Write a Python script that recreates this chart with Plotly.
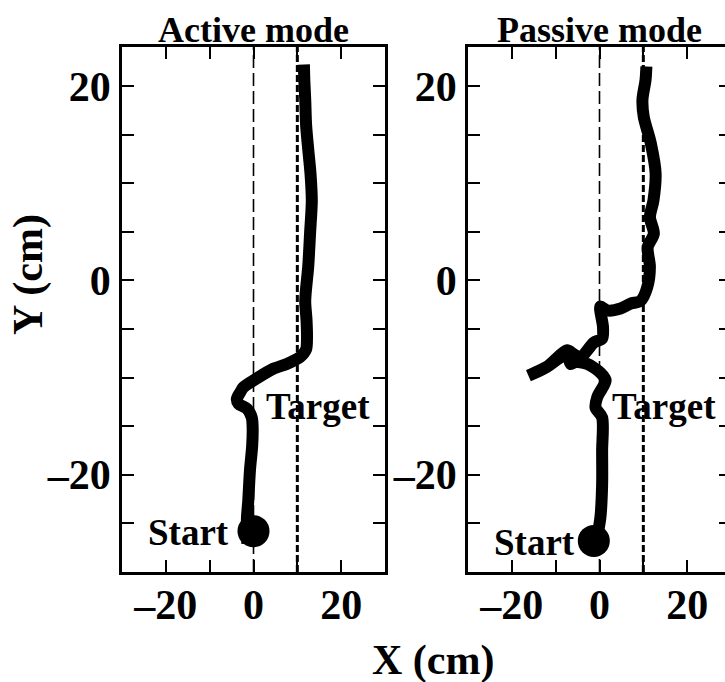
import plotly.graph_objects as go

# ---- data ----
active_x = [-1.4, -1.5, -1.2, -0.8, -0.3, -0.2, -0.4, -1.5, -3.4, -3.8, -3.0, -2.3, 0.7, 4.5, 7.6, 10.6, 12.0, 12.2, 12.1, 11.8, 12.5, 12.9, 13.3, 13.0, 12.5, 12.0, 11.8, 11.6, 11.5]
active_y = [-27.1, -24.5, -22.7, -19.5, -17.0, -15.1, -14.1, -13.2, -12.7, -12.2, -11.5, -11.0, -10.1, -9.1, -8.6, -7.9, -7.1, -6.0, -4.1, -2.1, 1.5, 4.8, 8.2, 11.0, 13.4, 16.0, 18.6, 20.5, 22.2]

passive_x = [-1.0, 0.2, 0.6, 0.6, 0.6, -0.9, -0.5, 1.4, 0.2, -2.8, -5.5, -6.6, -7.4, -12.0, -16.2, -12.0, -7.4, -5.9, -4.3, -1.3, 0.6, 0.8, 0.2, 1.8, 4.8, 7.1, 9.4, 10.9, 11.5, 11.0, 12.4, 11.5, 12.3, 12.8, 11.7, 10.1, 9.8, 10.5, 10.7]
passive_y = [-27.5, -24.4, -21.0, -17.5, -14.1, -13.1, -12.0, -10.3, -9.5, -8.6, -8.4, -8.6, -7.6, -8.9, -9.8, -8.9, -7.2, -7.6, -7.9, -6.4, -6.0, -4.8, -2.7, -3.1, -2.9, -2.4, -2.1, -0.7, 1.4, 3.4, 4.8, 6.5, 8.2, 11.0, 14.1, 16.8, 18.6, 20.6, 22.0]

start_active = (0.0, -25.8)
start_passive = (-1.3, -26.8)
target_x = 10
origin_x = 0

titles = ["Active mode", "Passive mode"]
x_tickvals = [-20, 0, 20]
x_ticktext = ["–20", "0", "20"]
x_minor = [-30, -10, 10, 30]
y_tickvals = [-20, 0, 20]
y_ticktext = ["–20", "0", "20"]
y_minor = [-25, -15, -10, -5, 5, 10, 15]

# ---- layout geometry (pixels) ----
W, H = 745, 682
p1 = (122, 385)
p2 = (468, 731)
top, bottom = 47, 572

FONT = "Liberation Serif, Times New Roman, serif"

fig = go.Figure()

panels = [
    (active_x, active_y, start_active, "x", "y"),
    (passive_x, passive_y, start_passive, "x2", "y2"),
]
for xs, ys, st, xa, ya in panels:
    fig.add_trace(go.Scatter(x=[origin_x, origin_x], y=[-30, 24], mode="lines",
                             line=dict(color="black", width=1.6, dash="13px,5px"),
                             xaxis=xa, yaxis=ya, showlegend=False, hoverinfo="skip"))
    fig.add_trace(go.Scatter(x=[target_x, target_x], y=[-30, 24], mode="lines",
                             line=dict(color="black", width=3, dash="7px,3px"),
                             xaxis=xa, yaxis=ya, showlegend=False, hoverinfo="skip"))
    fig.add_trace(go.Scatter(x=xs, y=ys, mode="lines",
                             line=dict(color="black", width=12, shape="spline", smoothing=0.8),
                             xaxis=xa, yaxis=ya, showlegend=False))
    fig.add_trace(go.Scatter(x=[st[0]], y=[st[1]], mode="markers",
                             marker=dict(color="black", size=32),
                             xaxis=xa, yaxis=ya, showlegend=False))

minor_common = dict(tickmode="array", ticks="inside", ticklen=12, tickwidth=2, tickcolor="black")
axis_common = dict(
    showgrid=False, zeroline=False, showline=True, linecolor="black", linewidth=2.5,
    mirror="allticks", ticks="inside", ticklen=12, tickwidth=2, tickcolor="black",
    tickfont=dict(family=FONT, size=42, color="black", weight="bold"),
    tickmode="array",
)

fig.update_layout(
    width=W, height=H, margin=dict(l=0, r=0, t=0, b=0),
    paper_bgcolor="white", plot_bgcolor="white",
    xaxis=dict(domain=[p1[0] / W, p1[1] / W], range=[-30, 30], anchor="y",
               tickvals=x_tickvals, ticktext=x_ticktext, ticklabelstandoff=-6,
               minor=dict(tickvals=x_minor, **minor_common), **axis_common),
    xaxis2=dict(domain=[p2[0] / W, p2[1] / W], range=[-30, 30], anchor="y2",
                tickvals=x_tickvals, ticktext=x_ticktext, ticklabelstandoff=-6,
                minor=dict(tickvals=x_minor, **minor_common), **axis_common),
    yaxis=dict(domain=[(H - bottom) / H, (H - top) / H], range=[-30, 24], anchor="x",
               tickvals=y_tickvals, ticktext=y_ticktext,
               minor=dict(tickvals=y_minor, **minor_common), **axis_common),
    yaxis2=dict(domain=[(H - bottom) / H, (H - top) / H], range=[-30, 24], anchor="x2",
                tickvals=y_tickvals, ticktext=y_ticktext,
                minor=dict(tickvals=y_minor, **minor_common), **axis_common),
)

tfont = dict(family=FONT, size=36, color="black", weight="bold")
lfont = dict(family=FONT, size=37, color="black", weight="bold")
afont = dict(family=FONT, size=42, color="black", weight="bold")
ann = []
for t, p in zip(titles, [p1, p2]):
    ann.append(dict(text=t, x=(p[0] + p[1]) / 2 / W, y=(H - 30) / H, xref="paper", yref="paper",
                    showarrow=False, font=tfont, xanchor="center", yanchor="middle"))
ann.append(dict(text="Target", x=14.6, y=-13.0, xref="x", yref="y", showarrow=False, font=lfont,
                xanchor="center", yanchor="middle"))
ann.append(dict(text="Start", x=-14.9, y=-25.9, xref="x", yref="y", showarrow=False, font=lfont,
                xanchor="center", yanchor="middle"))
ann.append(dict(text="Target", x=14.7, y=-13.0, xref="x2", yref="y2", showarrow=False, font=lfont,
                xanchor="center", yanchor="middle"))
ann.append(dict(text="Start", x=-14.9, y=-27.0, xref="x2", yref="y2", showarrow=False, font=lfont,
                xanchor="center", yanchor="middle"))
ann.append(dict(text="X (cm)", x=433 / W, y=(H - 660) / H, xref="paper", yref="paper", showarrow=False,
                font=afont, xanchor="center", yanchor="middle"))
ann.append(dict(text="Y (cm)", x=28 / W, y=(H - 275) / H, xref="paper", yref="paper", showarrow=False,
                textangle=-90, font=afont, xanchor="center", yanchor="middle"))
fig.update_layout(annotations=ann)

fig.write_html("out.html",
               post_script="document.documentElement.style.overflow='hidden';document.body.style.overflow='hidden';")
